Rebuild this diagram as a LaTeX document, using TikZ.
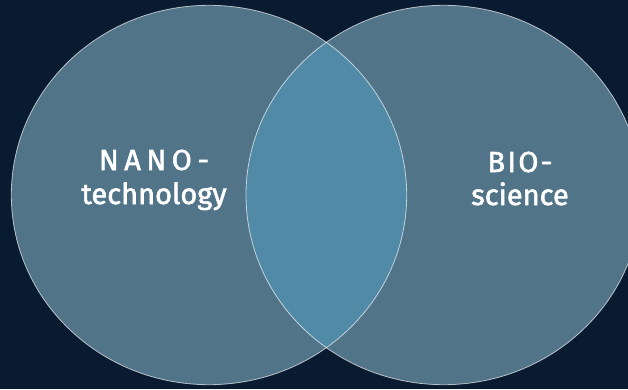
\documentclass[tikz,border=0pt]{standalone}
\usepackage{fontspec}
\setmainfont{Fira Sans}
\definecolor{bgnavy}{HTML}{081B30}
\definecolor{ringfill}{HTML}{527489}
\definecolor{overlapfill}{HTML}{508AA7}
\tikzset{
  ring/.style={draw=white, draw opacity=0.65, line width=0.8pt},
  vennlabel/.style={text=white, font=\fontsize{29}{34}\selectfont\addfontfeature{FakeBold=1.9}, anchor=base, inner sep=0pt}
}
\begin{document}
\begin{tikzpicture}[x=1pt,y=1pt]
\useasboundingbox (0,0) rectangle (628,389);
\clip (0,0) rectangle (628,389);
\fill[bgnavy] (0,0) rectangle (628,389);
\fill[ringfill] (209,194) ellipse [x radius=197.7, y radius=189.7];
\fill[ringfill] (443.7,194) ellipse [x radius=197.7, y radius=189.7];
\begin{scope}
\clip (209,194) ellipse [x radius=197.7, y radius=189.7];
\fill[overlapfill] (443.7,194) ellipse [x radius=197.7, y radius=189.7];
\end{scope}
\draw[ring] (209,194) ellipse [x radius=197.7, y radius=189.7];
\draw[ring] (443.7,194) ellipse [x radius=197.7, y radius=189.7];

\node[vennlabel] (nano) at (154,219) {\addfontfeature{LetterSpace=19}NANO-};
\node[vennlabel] (tech) at (154,185) {technology};
\node[vennlabel] (bio) at (520,217) {\addfontfeature{LetterSpace=8}BIO-};
\node[vennlabel] (sci) at (520,184) {science};
\end{tikzpicture}
\end{document}
